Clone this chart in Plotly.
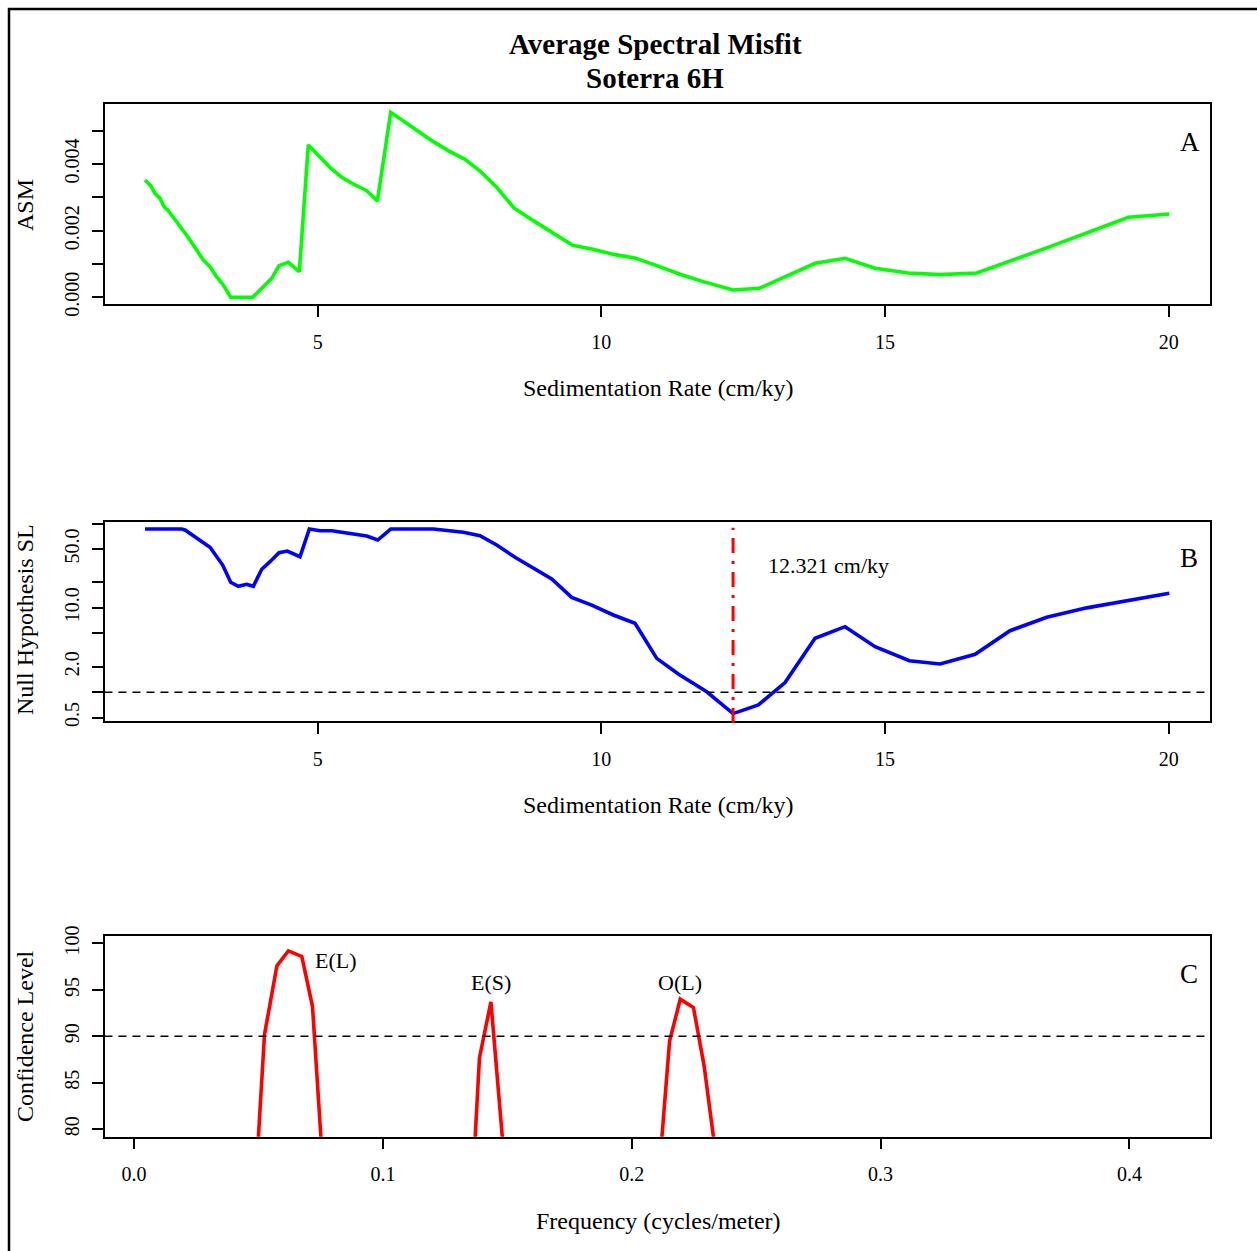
import math
import plotly.graph_objects as go

W, H = 1257, 1251

# Panel A: average spectral misfit vs sedimentation rate
rate_a = [1.956, 2.056, 2.132, 2.220, 2.291, 2.366, 2.701, 2.983, 3.102, 3.207,
          3.336, 3.466, 3.854, 4.041, 4.189, 4.318, 4.482, 4.676, 4.834, 5.217,
          5.423, 5.628, 5.864, 6.051, 6.287, 6.569, 7.038, 7.332, 7.597, 7.861,
          8.155, 8.460, 8.800, 9.495, 9.830, 10.241, 10.593, 10.976, 11.386, 11.797,
          12.321, 12.784, 13.267, 13.766, 14.295, 14.824, 15.411, 15.970, 16.617, 17.908,
          19.289, 20.011]
asm_a = [0.00352, 0.00335, 0.00312, 0.00297, 0.00272, 0.00260, 0.00184, 0.00112, 0.00092, 0.00064,
         0.00037, 0.00000, 0.00000, 0.00030, 0.00057, 0.00095, 0.00105, 0.00077, 0.00457, 0.00390,
         0.00360, 0.00340, 0.00320, 0.00289, 0.00555, 0.00522, 0.00467, 0.00437, 0.00414, 0.00379,
         0.00330, 0.00268, 0.00230, 0.00156, 0.00145, 0.00128, 0.00118, 0.00095, 0.00069, 0.00047,
         0.00022, 0.00027, 0.00064, 0.00102, 0.00117, 0.00087, 0.00073, 0.00068, 0.00073, 0.00152,
         0.00240, 0.00250]

# Panel B: null hypothesis significance level (%) vs sedimentation rate
rate_b = [1.956, 2.603, 2.661, 2.867, 3.102, 3.325, 3.466, 3.600, 3.748, 3.865,
          4.013, 4.159, 4.318, 4.464, 4.688, 4.852, 5.041, 5.247, 5.569, 5.864,
          6.058, 6.287, 7.038, 7.567, 7.861, 8.155, 8.478, 9.125, 9.477, 9.830,
          10.211, 10.593, 10.976, 11.356, 11.857, 12.321, 12.767, 13.237, 13.766, 14.295,
          14.824, 15.429, 15.970, 16.587, 17.203, 17.850, 18.555, 19.260, 20.011]
sl_b = [86.1, 86.1, 83.9, 66.9, 52.3, 32.2, 20.1, 18.0, 19.0, 18.0,
        28.7, 35.3, 45.1, 47.2, 40.4, 86.1, 82.2, 82.2, 76.6, 71.1,
        63.8, 86.1, 86.1, 78.7, 71.8, 55.7, 39.8, 22.0, 13.3, 10.8,
        8.23, 6.56, 2.52, 1.64, 1.01, 0.557, 0.705, 1.30, 4.36, 5.98,
        3.46, 2.36, 2.16, 2.81, 5.36, 7.73, 10.0, 12.2, 14.9]
best_rate = 12.321
sl_threshold = 1.0

# Panel C: confidence level of astronomical terms vs frequency
freq_c = [0.0475, 0.0524, 0.0574, 0.0620, 0.0674, 0.0717, 0.0765, None,
          0.1342, 0.1388, 0.1434, 0.1480, None,
          0.2107, 0.2152, 0.2195, 0.2248, 0.2291, 0.2336]
conf_c = [68.1, 90.2, 97.6, 99.2, 98.6, 93.2, 73.2, None,
          65.0, 87.7, 93.7, 79.1, None,
          74.4, 89.5, 94.0, 93.1, 86.8, 77.6]
conf_threshold = 90
term_labels = ["E(L)", "E(S)", "O(L)"]
term_freqs = [0.0718, 0.1434, 0.2195]
term_conf = [98.2, 95.8, 95.8]

ticks_a = [0, 0.001, 0.002, 0.003, 0.004, 0.005]
ticktext_a = ["0.000", "", "0.002", "", "0.004", ""]
ticks_b = [0.5, 1, 2, 5, 10, 20, 50, 100]
ticktext_b = ["0.5", "", "2.0", "", "10.0", "", "50.0", ""]
ticks_rate = [5, 10, 15, 20]
ticks_freq = [0.0, 0.1, 0.2, 0.3, 0.4]
ticktext_freq = ["0.0", "0.1", "0.2", "0.3", "0.4"]
ticks_c = [80, 85, 90, 95, 100]

FONT = "Liberation Serif"


def px(x):
    return x / W


def py(y):
    return 1 - y / H


xdom = [px(104.5), px(1209.5)]
dom_a = [py(304), py(104)]
dom_b = [py(721), py(521.7)]
dom_c = [py(1136.7), py(936)]

axis_common = dict(showline=True, mirror=True, linecolor="black", linewidth=1.5,
                   ticks="outside", ticklen=11, tickwidth=1.5, tickcolor="black",
                   showgrid=False, zeroline=False, automargin=False,
                   tickfont=dict(family=FONT, size=20, color="black"))
xaxis_common = dict(ticklabelstandoff=8, **axis_common)
yaxis_common = dict(ticklabelstandoff=5, tickangle=-90, **axis_common)

fig = go.Figure()

fig.add_trace(go.Scatter(x=rate_a, y=asm_a, mode="lines",
                         line=dict(color="#00ff00", width=3.6),
                         xaxis="x", yaxis="y", showlegend=False))
fig.add_trace(go.Scatter(x=rate_b, y=sl_b, mode="lines",
                         line=dict(color="#0000ff", width=3.6),
                         xaxis="x2", yaxis="y2", showlegend=False))
fig.add_trace(go.Scatter(x=freq_c, y=conf_c, mode="lines", connectgaps=False,
                         line=dict(color="#ff0000", width=3.6),
                         xaxis="x3", yaxis="y3", showlegend=False))

fig.update_layout(
    width=W, height=H,
    margin=dict(l=0, r=0, t=0, b=0, autoexpand=False),
    paper_bgcolor="white", plot_bgcolor="white",
    xaxis=dict(domain=xdom, anchor="y", range=[1.242, 20.719],
               tickvals=ticks_rate, **xaxis_common),
    yaxis=dict(domain=dom_a, anchor="x", range=[-0.000201, 0.0058],
               tickvals=ticks_a, ticktext=ticktext_a, **yaxis_common),
    xaxis2=dict(domain=xdom, anchor="y2", range=[1.242, 20.719],
                tickvals=ticks_rate, **xaxis_common),
    yaxis2=dict(domain=dom_b, anchor="x2", type="log", range=[-0.342, 2.022],
                tickvals=ticks_b, ticktext=ticktext_b, **yaxis_common),
    xaxis3=dict(domain=xdom, anchor="y3", range=[-0.0119, 0.4322],
                tickvals=ticks_freq, ticktext=ticktext_freq, **xaxis_common),
    yaxis3=dict(domain=dom_c, anchor="x3", range=[79.2, 100.8],
                tickvals=ticks_c, **yaxis_common),
)

shapes = [
    # outer frame
    dict(type="rect", xref="paper", yref="paper", x0=px(9), x1=1.05, y0=-0.05, y1=py(9),
         line=dict(color="black", width=2.5), fillcolor="rgba(0,0,0,0)", layer="above"),
    # significance threshold in panel B
    dict(type="line", xref="x2 domain", yref="y2", x0=0, x1=1,
         y0=sl_threshold, y1=sl_threshold,
         line=dict(color="black", width=1.5, dash="8px,6px")),
    # best-fit sedimentation rate
    dict(type="line", xref="x2", yref="y2 domain", x0=best_rate, x1=best_rate, y0=-0.01, y1=0.97,
         line=dict(color="#ff0000", width=3, dash="15px,8px,3px,8px")),
    # confidence threshold in panel C
    dict(type="line", xref="x3 domain", yref="y3", x0=0, x1=1,
         y0=conf_threshold, y1=conf_threshold,
         line=dict(color="black", width=1.5, dash="8px,6px")),
]
fig.update_layout(shapes=shapes)

ann = []


def text(x, y, s, size=22, bold=False, angle=0, xanchor="center"):
    ann.append(dict(x=px(x), y=py(y), xref="paper", yref="paper", text=s, showarrow=False,
                    textangle=angle, xanchor=xanchor, yanchor="middle",
                    font=dict(family=FONT, size=size, color="black",
                              weight="bold" if bold else "normal")))


text(655, 44, "Average Spectral Misfit", size=29, bold=True)
text(655, 78, "Soterra 6H", size=29, bold=True)

text(658, 388, "Sedimentation Rate (cm/ky)", size=24)
text(658, 805, "Sedimentation Rate (cm/ky)", size=24)
text(658, 1221, "Frequency (cycles/meter)", size=24)
text(25, 205, "ASM", size=24, angle=-90)
text(25, 620, "Null Hypothesis SL", size=24, angle=-90)
text(25, 1036, "Confidence Level", size=24, angle=-90)

text(1190, 142, "A", size=27)
text(1189, 558, "B", size=27)
text(1189, 974, "C", size=27)

fig.update_layout(annotations=ann)

# rate label beside the vertical line (log axis: position given in log10 units)
fig.add_annotation(x=best_rate, y=math.log10(32.0), xref="x2", yref="y2",
                   text=f"{best_rate} cm/ky",
                   showarrow=False, xanchor="left", yanchor="middle", xshift=33,
                   font=dict(family=FONT, size=22, color="black"))

# astronomical term labels
for lab, f, c, anc in zip(term_labels, term_freqs, term_conf, ["left", "center", "center"]):
    fig.add_annotation(x=f, y=c, xref="x3", yref="y3", text=lab, showarrow=False,
                       xanchor=anc, yanchor="middle",
                       font=dict(family=FONT, size=22, color="black"))

fig.write_html("out.html")
